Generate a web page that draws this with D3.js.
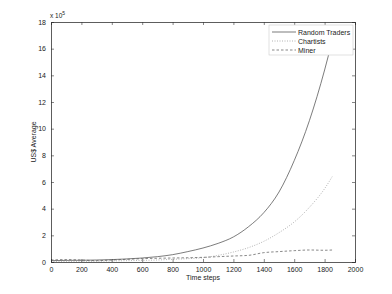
<!DOCTYPE html>
<html><head><meta charset="utf-8">
<script src="https://cdn.jsdelivr.net/npm/d3@7"></script>
<style>body{margin:0;background:#fff}svg{display:block;font-family:"Liberation Sans",Arial,sans-serif}</style>
</head><body><svg id="c" width="392" height="294"></svg>
<script>
const steps = [0,100,200,300,400,500,600,700,800,900,1000,1100,1200,1300,1400,1500,1600,1700,1800,1850];
const randomTraders = [0.1,0.12,0.13,0.15,0.18,0.23,0.3,0.4,0.55,0.78,1.05,1.4,1.88,2.65,3.7,5.25,7.6,10.6,14.4,16.6];
const chartists = [0.05,0.05,0.05,0.06,0.08,0.1,0.12,0.15,0.2,0.25,0.32,0.5,0.75,1.08,1.55,2.2,3.0,4.1,5.5,6.4];
const miner = [0.15,0.18,0.15,0.1,0.15,0.2,0.25,0.28,0.3,0.32,0.35,0.4,0.45,0.5,0.7,0.78,0.85,0.9,0.88,0.9];
const xTicks = [0,200,400,600,800,1000,1200,1400,1600,1800,2000];
const yTicks = [0,2,4,6,8,10,12,14,16,18];
const seriesNames = ["Random Traders","Chartists","Miner"];

const svg = d3.select("#c");
const L=51,R=355,T=22,B=262;
const x = d3.scaleLinear().domain([0,2000]).range([L,R]);
const y = d3.scaleLinear().domain([0,18]).range([B,T]);

const series = [
  {name:seriesNames[0], vals:randomTraders, stroke:"#444", dash:null, w:0.7},
  {name:seriesNames[1], vals:chartists, stroke:"#aaa", dash:"1,1.5", w:0.9},
  {name:seriesNames[2], vals:miner, stroke:"#555", dash:"2.5,2", w:0.7}
];
const line = d3.line().curve(d3.curveMonotoneX).x((d,i)=>x(steps[i])).y(d=>y(d));
series.forEach(s=>{
  svg.append("path").attr("d",line(s.vals)).attr("fill","none")
    .attr("stroke",s.stroke).attr("stroke-width",s.w).attr("stroke-dasharray",s.dash);
});

// axes (MATLAB-style box, inward ticks)
const fs = 7;
const gx = svg.append("g").attr("transform",`translate(0,${B})`)
  .call(d3.axisBottom(x).tickValues(xTicks).tickSize(-3).tickPadding(5).tickFormat(d3.format("d")));
const gxt = svg.append("g").attr("transform",`translate(0,${T})`)
  .call(d3.axisTop(x).tickValues(xTicks).tickSize(-3).tickFormat(""));
const gy = svg.append("g").attr("transform",`translate(${L},0)`)
  .call(d3.axisLeft(y).tickValues(yTicks).tickSize(-3).tickPadding(5).tickFormat(d3.format("d")));
const gyr = svg.append("g").attr("transform",`translate(${R},0)`)
  .call(d3.axisRight(y).tickValues(yTicks).tickSize(-3).tickFormat(""));
[gx,gxt,gy,gyr].forEach(g=>{
  g.selectAll("path").attr("stroke","#333").attr("stroke-width",0.8);
  g.selectAll("line").attr("stroke","#333").attr("stroke-width",0.6);
  g.selectAll("text").attr("font-size",fs).attr("fill","#222").attr("font-family","Liberation Sans,Arial,sans-serif");
});

// exponent
const ex = svg.append("text").attr("x",L-1).attr("y",T-4).attr("font-size",6.5).attr("fill","#222");
ex.append("tspan").text("x 10");
ex.append("tspan").attr("dy",-3).attr("font-size",5).text("5");

// axis labels
svg.append("text").attr("x",(L+R)/2).attr("y",280).attr("text-anchor","middle")
  .attr("font-size",fs).attr("fill","#222").text("Time steps");
svg.append("text").attr("transform",`translate(36,${(T+B)/2}) rotate(-90)`).attr("text-anchor","middle")
  .attr("font-size",fs).attr("fill","#222").text("US$ Average");

// legend
const lg = svg.append("g");
lg.append("rect").attr("x",269).attr("y",25).attr("width",84).attr("height",30)
  .attr("fill","#fff").attr("stroke","#ccc").attr("stroke-width",0.6);
series.forEach((s,i)=>{
  const yy = 32 + i*9;
  lg.append("line").attr("x1",272).attr("x2",296).attr("y1",yy).attr("y2",yy)
    .attr("stroke",s.stroke).attr("stroke-width",s.w).attr("stroke-dasharray",s.dash);
  lg.append("text").attr("x",298).attr("y",yy+2.5).attr("font-size",fs).attr("fill","#222").text(s.name);
});
</script></body></html>
